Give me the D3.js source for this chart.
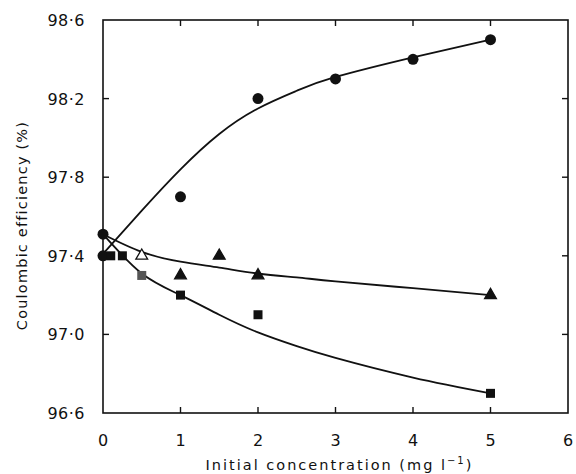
<!DOCTYPE html>
<html>
<head>
<meta charset="utf-8">
<script src="https://cdn.jsdelivr.net/npm/d3@7"></script>
<style>
  html, body { margin: 0; padding: 0; background: #fff; }
  text { font-family: "DejaVu Sans", "Liberation Sans", Arial, sans-serif; fill: #111; }
</style>
</head>
<body>
<div id="chart"></div>
<script>
// measured points
var circleX = [0, 0, 1, 2, 3, 4, 5];
var circleY = [97.4, 97.51, 97.7, 98.2, 98.3, 98.4, 98.5];
var triX = [0.5, 1, 1.5, 2, 5];
var triY = [97.4, 97.3, 97.4, 97.3, 97.2];
var sqX = [0.1, 0.25, 0.5, 1, 2, 5];
var sqY = [97.4, 97.4, 97.3, 97.2, 97.1, 96.7];

// hand-drawn fitted curves
var fitX = [0, 0.5, 1, 1.5, 2, 2.5, 3, 4, 5];
var circleFit = [97.41, 97.63, 97.84, 98.02, 98.15, 98.24, 98.31, 98.41, 98.5];
var triFit = [97.51, 97.42, 97.37, 97.34, 97.31, 97.29, 97.27, 97.235, 97.2];
var sqFit = [97.51, 97.31, 97.2, 97.1, 97.01, 96.94, 96.88, 96.78, 96.7];

var xTicks = [0, 1, 2, 3, 4, 5, 6];
var yTicks = [96.6, 97.0, 97.4, 97.8, 98.2, 98.6];

var width = 576, height = 474;
var margin = {top: 20, right: 8, bottom: 61, left: 103};

var svg = d3.select("#chart").append("svg")
  .attr("width", width)
  .attr("height", height);

var x = d3.scaleLinear().domain([0, 6]).range([margin.left, width - margin.right]);
var y = d3.scaleLinear().domain([96.6, 98.6]).range([height - margin.bottom, margin.top]);

var fmt = function(d){ return d3.format(".1f")(d).replace(".", "\u00b7"); };

// frame
svg.append("rect")
  .attr("x", x(0)).attr("y", y(98.6))
  .attr("width", x(6) - x(0)).attr("height", y(96.6) - y(98.6))
  .attr("fill", "none").attr("stroke", "#111").attr("stroke-width", 1.6);

// inward ticks on all four sides
var tl = 6;
var innerX = xTicks.filter(function(d){ return d > 0 && d < 6; });
var innerY = yTicks.filter(function(d){ return d > 96.6 && d < 98.6; });
var ticks = svg.append("g").attr("stroke", "#111").attr("stroke-width", 1.4);
innerX.forEach(function(d){
  ticks.append("line").attr("x1", x(d)).attr("x2", x(d)).attr("y1", y(96.6)).attr("y2", y(96.6) - tl);
  ticks.append("line").attr("x1", x(d)).attr("x2", x(d)).attr("y1", y(98.6)).attr("y2", y(98.6) + tl);
});
innerY.forEach(function(d){
  ticks.append("line").attr("x1", x(0)).attr("x2", x(0) + tl).attr("y1", y(d)).attr("y2", y(d));
  ticks.append("line").attr("x1", x(6)).attr("x2", x(6) - tl).attr("y1", y(d)).attr("y2", y(d));
});

// tick labels
svg.append("g").selectAll("text")
  .data(xTicks).enter().append("text")
  .attr("x", function(d){ return x(d); })
  .attr("y", 446)
  .attr("text-anchor", "middle")
  .style("font-size", "16px")
  .text(function(d){ return d; });

svg.append("g").selectAll("text")
  .data(yTicks).enter().append("text")
  .attr("x", 85)
  .attr("y", function(d){ return y(d) + 6; })
  .attr("text-anchor", "end")
  .style("font-size", "16px")
  .style("letter-spacing", "0.5px")
  .text(fmt);

// axis titles
var xt = svg.append("text")
  .attr("x", (x(0) + x(6)) / 2 + 4)
  .attr("y", 470)
  .attr("text-anchor", "middle")
  .style("font-size", "14.5px")
  .style("letter-spacing", "2px")
  .text("Initial  concentration  (mg l");
xt.append("tspan").attr("dy", -6).style("font-size", "10px").text("\u22121");
xt.append("tspan").attr("dy", 6).text(")");

svg.append("text")
  .attr("transform", "translate(27," + ((y(96.6) + y(98.6)) / 2 + 9) + ") rotate(-90)")
  .attr("text-anchor", "middle")
  .style("font-size", "14.5px")
  .style("letter-spacing", "1.2px")
  .text("Coulombic  efficiency  (%)");

// curves
var line = d3.line()
  .x(function(d){ return x(d[0]); })
  .y(function(d){ return y(d[1]); })
  .curve(d3.curveNatural);

[circleFit, triFit, sqFit].forEach(function(f){
  svg.append("path")
    .datum(d3.zip(fitX, f))
    .attr("d", line)
    .attr("fill", "none")
    .attr("stroke", "#111")
    .attr("stroke-width", 1.8);
});

// markers
svg.append("g").selectAll("circle")
  .data(d3.zip(circleX, circleY)).enter().append("circle")
  .attr("cx", function(d){ return x(d[0]); })
  .attr("cy", function(d){ return y(d[1]); })
  .attr("r", 5.5)
  .attr("fill", "#111");

svg.append("g").selectAll("rect")
  .data(d3.zip(sqX, sqY)).enter().append("rect")
  .attr("x", function(d){ return x(d[0]) - 4.5; })
  .attr("y", function(d){ return y(d[1]) - 4.5; })
  .attr("width", 9).attr("height", 9)
  .attr("fill", function(d){ return d[0] === 0.5 ? "#555" : "#111"; });

var tri = d3.symbol().type(d3.symbolTriangle).size(60);
svg.append("g").selectAll("path")
  .data(d3.zip(triX, triY)).enter().append("path")
  .attr("transform", function(d){ return "translate(" + x(d[0]) + "," + y(d[1]) + ")"; })
  .attr("d", tri)
  .attr("fill", function(d){ return d[0] === 0.5 ? "#fff" : "#111"; })
  .attr("stroke", "#111")
  .attr("stroke-width", 1.3);
</script>
</body>
</html>
